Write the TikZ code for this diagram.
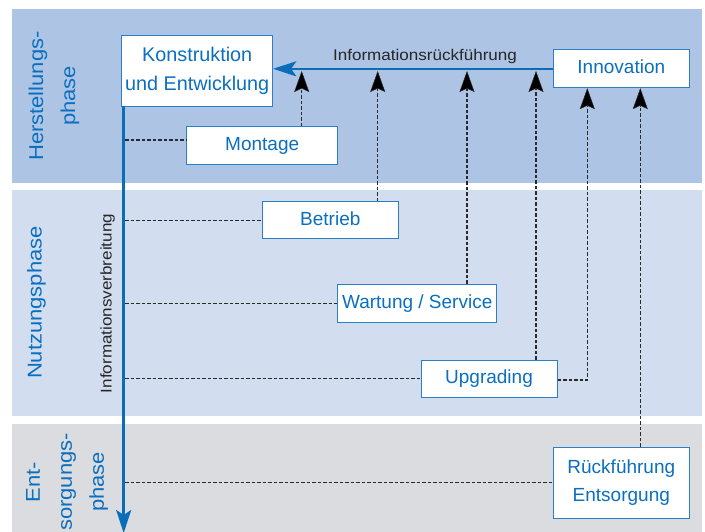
\documentclass[tikz,border=0pt]{standalone}
\usepackage{fontspec}
\setmainfont{Liberation Sans}
\newfontfamily\lblfont[FakeStretch=1.1]{Liberation Sans}
\usetikzlibrary{arrows.meta}
\definecolor{bandA}{HTML}{AEC4E4}
\definecolor{bandB}{HTML}{D2DEF0}
\definecolor{bandC}{HTML}{DBDCDF}
\definecolor{txtblue}{HTML}{0B6FC0}
\definecolor{lineblue}{HTML}{0A6DB8}
\definecolor{boxblue}{HTML}{2A7FC6}
\definecolor{dashgrey}{HTML}{2A2A2A}
\tikzset{
  stagebox/.style={draw=boxblue, line width=1pt, fill=white, text=txtblue,
    font=\fontsize{19}{28}\selectfont, inner sep=0pt, align=center},
  onebox/.style={stagebox, text height=14pt, text depth=4pt},
  flowline/.style={draw=lineblue, line width=2.6pt,
    -{Stealth[length=23pt,width=15pt,inset=5pt]}},
  feedline/.style={draw=dashgrey, line width=1.2pt, dash pattern=on 3.5pt off 2pt},
  feedarrow/.style={feedline, -{Stealth[length=21pt,width=15pt,inset=3.5pt,fill=black,line width=0.5pt]}},
  phaselabel/.style={text=txtblue, rotate=90, align=center,
    font=\lblfont\fontsize{20}{32}\selectfont, inner sep=0pt},
  smalllabel/.style={text=black!85, font=\lblfont\fontsize{15.5}{18}\selectfont, inner sep=0pt}
}
\begin{document}
\begin{tikzpicture}[x=1pt,y=-1pt]
\useasboundingbox (0,0) rectangle (705,531);
\begin{scope}
\clip (0,0) rectangle (705,531);
% bands
\fill[bandA] (12,9) rectangle (702,183);
\fill[bandB] (12,190) rectangle (702,416);
\fill[bandC] (12,424) rectangle (702,545);

% phase labels
\node[phaselabel] (ph1) at (54,96) {Herstellungs-\\phase};
\node[phaselabel] (ph2) at (36.5,302.5) {Nutzungsphase};
\node[phaselabel] (ph3) at (67,482) {Ent-\\sorgungs-\\phase};

% boxes
\node[stagebox, font=\fontsize{19.8}{29}\selectfont, minimum width=151pt, minimum height=71pt] (K) at (197.2,70.5) {Konstruktion\\und Entwicklung};
\node[onebox, minimum width=151pt, minimum height=37.7pt] (M) at (262.2,145.8) {Montage};
\node[onebox, minimum width=136pt, minimum height=37.7pt] (I) at (621.3,68.8) {Innovation};
\node[onebox, minimum width=136pt, minimum height=37.3pt] (B) at (330.3,220.3) {Betrieb};
\node[onebox, minimum width=159pt, minimum height=38pt] (W) at (417.2,303.3) {Wartung / Service};
\node[onebox, minimum width=136pt, minimum height=37pt] (U) at (489,378.8) {Upgrading};
\node[stagebox, minimum width=136pt, minimum height=71pt] (R) at (621.3,482.8) {Rückführung\\Entsorgung};

% labels
\node[smalllabel, anchor=base] (lr) at (425,60) {Informationsrückführung};
\node[smalllabel, anchor=base, rotate=90] (lv) at (111.5,303.5) {Informationsverbreitung};

% helper coordinates
\coordinate (vtop) at (123.7,106);
\coordinate (vend) at (123.7,533);
\coordinate (hm) at (125,140);
\coordinate (a1) at (301.7,71);
\coordinate (a2) at (377.7,71);
\coordinate (a3) at (467,71);
\coordinate (a4) at (536,71);
\coordinate (a5) at (587.3,380);
\coordinate (a6) at (640.3,88);

% dashed distribution lines
\draw[feedline] (hm) -- (hm -| M.west);
\draw[feedline] (B.west -| hm) -- (B.west);
\draw[feedline] (W.west -| hm) -- (W.west);
\draw[feedline] (U.west -| hm) -- (U.west);
\draw[feedline] (R.west -| hm) -- (R.west);

% dashed feedback arrows
\draw[feedarrow] (M.north -| a1) -- (a1);
\draw[feedarrow] (B.north -| a2) -- (a2);
\draw[feedarrow] (W.north -| a3) -- (a3);
\draw[feedarrow] (U.north -| a4) -- (a4);
\draw[feedarrow] (U.east |- a5) -- (a5) -- (I.south -| a5);
\draw[feedarrow] (R.north -| a6) -- (I.south -| a6);

% blue flow lines
\draw[flowline] (vtop) -- (vend);
\draw[flowline] (I.west) -- (I.west -| K.east);
\end{scope}
\end{tikzpicture}
\end{document}
